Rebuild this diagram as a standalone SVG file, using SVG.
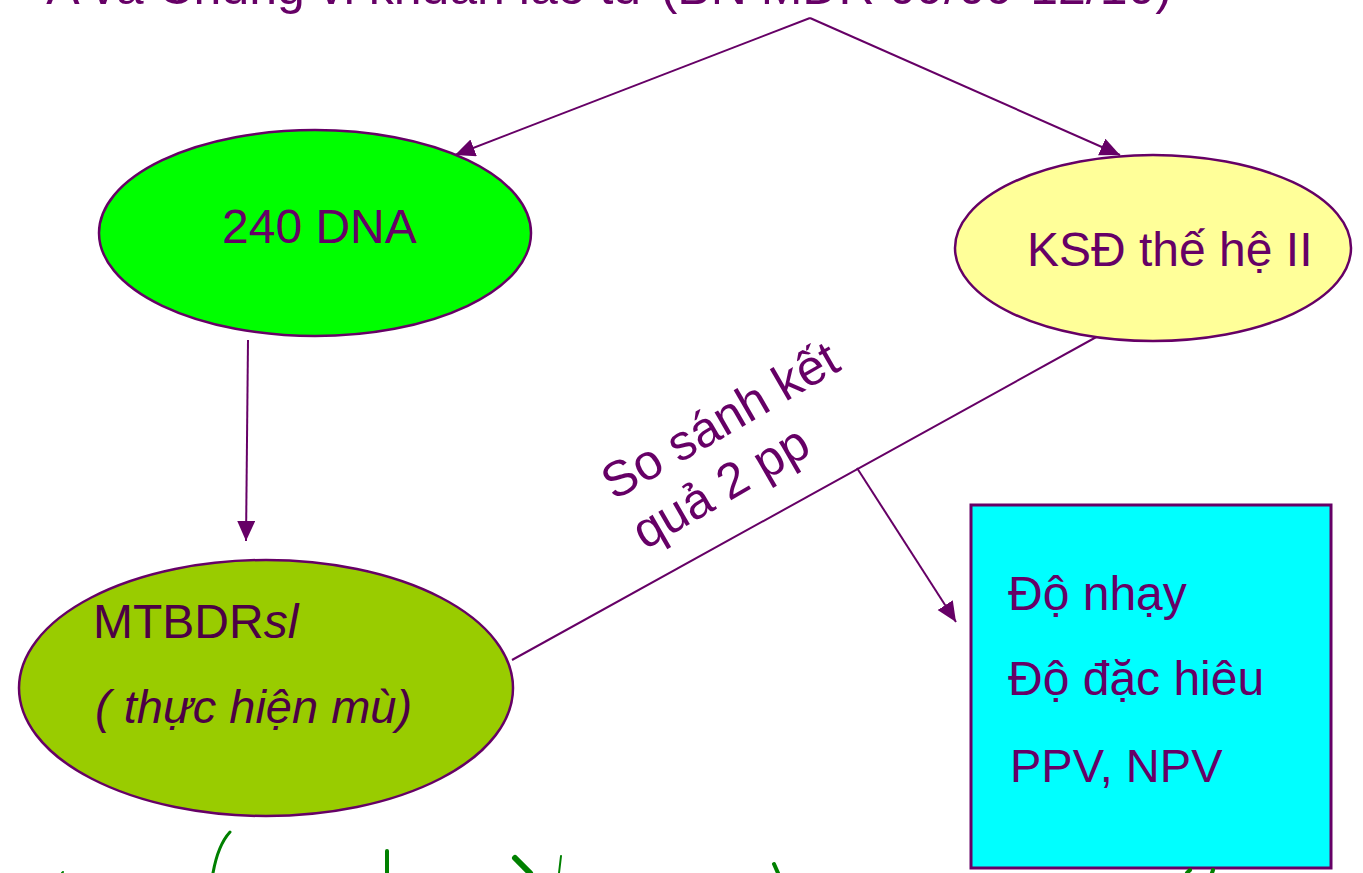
<svg xmlns="http://www.w3.org/2000/svg" width="1363" height="873" viewBox="0 0 1363 873">
<style>
.t{font-family:"Liberation Sans",Arial,sans-serif;fill:#660066}
.c{stroke:#660066;stroke-width:2;fill:none}
.n{stroke:#660066;stroke-width:2.5}
.g{stroke:#008000;fill:none;stroke-linecap:round}
</style>
<defs>
<marker id="ah" markerUnits="userSpaceOnUse" markerWidth="22" markerHeight="20" refX="20" refY="9" orient="auto">
<path d="M0,0 L20,9 L0,18 Z" fill="#660066"/>
</marker>
</defs>
<rect width="1363" height="873" fill="#ffffff"/>
<text class="t" x="1172" y="4" font-size="50" text-anchor="end">A và Chủng vi khuẩn lao từ (BN MDR 09/09-12/10)</text>
<g id="connectors">
<line class="c" x1="810" y1="18" x2="455" y2="155" marker-end="url(#ah)"/>
<line class="c" x1="810" y1="18" x2="1120" y2="155" marker-end="url(#ah)"/>
<line class="c" x1="248" y1="340" x2="246" y2="541" marker-end="url(#ah)"/>
<line class="c" x1="512" y1="660" x2="1100" y2="335"/>
<line class="c" x1="857" y1="468" x2="956" y2="622" marker-end="url(#ah)"/>
</g>
<g id="label-compare">
<g transform="translate(614,501) rotate(-30)">
<text class="t" x="0" y="0" font-size="50">So sánh kết</text>
<text class="t" x="2" y="58" font-size="50">quả 2 pp</text>
</g>
</g>
<g id="node-dna">
<ellipse class="n" cx="315" cy="233" rx="216" ry="103" fill="#00FF00"/>
<text class="t" x="222" y="243" font-size="48">240 DNA</text>
</g>
<g id="node-ksd">
<ellipse class="n" cx="1153" cy="248" rx="198" ry="93" fill="#FFFF99"/>
<text class="t" x="1027" y="266" font-size="48">KSĐ thế hệ II</text>
</g>
<g id="node-mtbdr">
<ellipse class="n" cx="266" cy="688" rx="247" ry="128" fill="#99CC00"/>
<text class="t" x="93" y="638" font-size="48" style="fill:#4c0045">MTBDR<tspan font-style="italic">sl</tspan></text>
<text class="t" x="95" y="723" font-size="47" font-style="italic" style="fill:#4c0045">( thực hiện mù)</text>
</g>
<g id="node-result">
<rect x="971" y="505" width="360" height="363" fill="#00FFFF" stroke="#660066" stroke-width="3"/>
<text class="t" x="1008" y="610" font-size="48">Độ nhạy</text>
<text class="t" x="1008" y="695" font-size="48">Độ đặc hiêu</text>
<text class="t" x="1010" y="782" font-size="47">PPV, NPV</text>
</g>
<g id="grass">
<path class="g" d="M230,832 Q218,845 213,873" stroke-width="3"/>
<path class="g" d="M387,851 L387,873" stroke-width="4"/>
<path class="g" d="M515,858 L530,873" stroke-width="6"/>
<path class="g" d="M561,856 L559,873" stroke-width="2"/>
<path class="g" d="M774,864 L778,873" stroke-width="4"/>
<path class="g" d="M1187,873 L1190,870" stroke-width="4"/>
<path class="g" d="M1212,873 L1213,870" stroke-width="4"/>
<path class="g" d="M62,873 L63,872" stroke-width="2"/>
</g>
</svg>
